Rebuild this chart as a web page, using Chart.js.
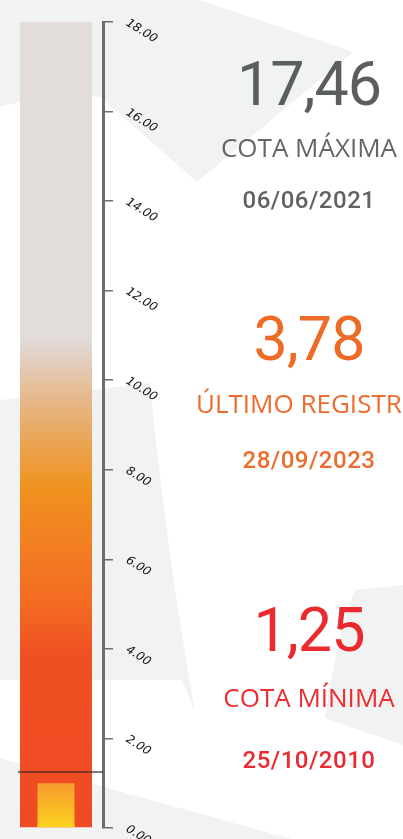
<!DOCTYPE html>
<html lang="pt-BR">
<head>
<meta charset="utf-8">
<title>Cota</title>
<script src="https://cdn.jsdelivr.net/npm/chart.js@4.4.1/dist/chart.umd.min.js"></script>
<style>
  html, body { margin: 0; padding: 0; }
  body { width: 403px; height: 839px; overflow: hidden; position: relative; background: #fff; }
  #fundo { position: absolute; left: 0; top: 0; }
  #grafico { position: absolute; left: 0; top: 0; }
  .txt { position: absolute; left: 109px; width: 400px; text-align: center; white-space: nowrap; line-height: 1; }
  .valor { font-family: Roboto, sans-serif; font-size: 61px; letter-spacing: -1px; }
  .rotulo { font-family: "Open Sans", sans-serif; font-size: 26px; }
  .data { font-family: Roboto, sans-serif; font-weight: 500; font-size: 24px; letter-spacing: 0.5px; }
</style>
</head>
<body>
<svg id="fundo" width="403" height="839">
  <g fill="#f1f2f2">
    <path d="M0,0 L200,0 L353,52 L197,182 L100,97 Q50,92 0,107 Z"/>
    <path d="M0,400 L150,383 C158,470 175,600 195,712 L182,680 L0,680 Z"/>
    <path d="M355,590 L403,585 L403,745 L325,718 C330,680 340,630 355,590 Z"/>
    <path d="M0,758 L403,870 L403,839 L0,839 Z"/>
  </g>
</svg>
<canvas id="grafico" width="200" height="839"></canvas>
<div id="cartoes"></div>
<script>
// dados do termômetro
const categorias = ['Cota'];
const escalaMax = [18];      // trilho graduado
const nivelAtual = [1.0];    // barra amarela
const cotaMinima = 1.25;
const marcasY = [0, 2, 4, 6, 8, 10, 12, 14, 16, 18];

// cartões da direita
const valoresCartao = ['17,46', '3,78', '1,25'];
const rotulosCartao = ['COTA MÁXIMA', 'ÚLTIMO REGISTRO', 'COTA MÍNIMA'];
const datasCartao = ['06/06/2021', '28/09/2023', '25/10/2010'];
const coresCartao = [['#5b5e5f', '#646667', '#5f6263'], ['#ee6a27', '#ee6b2b', '#ee6b2b'], ['#e92a2f', '#ec2e33', '#e92a2f']];
const topos = [[54, 134, 188], [309, 390, 448], [600, 684, 748]];

const cartoes = document.getElementById('cartoes');
valoresCartao.forEach((v, i) => {
  const partes = [[v, 'valor'], [rotulosCartao[i], 'rotulo'], [datasCartao[i], 'data']];
  partes.forEach(([t, cls], j) => {
    const d = document.createElement('div');
    d.className = 'txt ' + cls;
    d.textContent = t;
    d.style.top = topos[i][j] + 'px';
    d.style.color = coresCartao[i][j];
    cartoes.appendChild(d);
  });
});

function gradienteEscala(context) {
  const chart = context.chart;
  if (!chart.chartArea) return '#e2dcdb';
  const y = chart.scales.y;
  const g = chart.ctx.createLinearGradient(0, y.getPixelForValue(0), 0, y.getPixelForValue(18));
  const paradas = [[0, '#ef4b23'], [3.8, '#f04f23'], [5, '#f36a22'], [6.2, '#f27c22'], [7.6, '#f0921f'],
                   [8.8, '#e9a85e'], [9.8, '#e5bd97'], [10.6, '#e2d3ca'], [11.0, '#e2dcdb'], [18, '#e2dcdb']];
  paradas.forEach(([v, c]) => g.addColorStop(v / 18, c));
  return g;
}

function gradienteNivel(context) {
  const chart = context.chart;
  if (!chart.chartArea) return '#fbc425';
  const y = chart.scales.y;
  const g = chart.ctx.createLinearGradient(0, y.getPixelForValue(0), 0, y.getPixelForValue(nivelAtual[0]));
  g.addColorStop(0, '#fdd31f');
  g.addColorStop(1, '#f59b2d');
  return g;
}

// linha da cota mínima
const linhaMinima = {
  id: 'linhaMinima',
  afterDatasetsDraw(chart) {
    const y = chart.scales.y.getPixelForValue(cotaMinima);
    const bar = chart.getDatasetMeta(1).data[0];
    const ctx = chart.ctx;
    ctx.save();
    ctx.strokeStyle = 'rgba(70,40,35,0.85)';
    ctx.lineWidth = 1.5;
    ctx.beginPath();
    ctx.moveTo(bar.x - bar.width / 2 - 2, y);
    ctx.lineTo(chart.chartArea.right, y);
    ctx.stroke();
    ctx.restore();
  }
};

new Chart(document.getElementById('grafico'), {
  type: 'bar',
  data: {
    labels: categorias,
    datasets: [
      { label: 'Nível', data: nivelAtual, backgroundColor: gradienteNivel, grouped: false, order: 0,
        barPercentage: 37 / 94, categoryPercentage: 1 },
      { label: 'Escala', data: escalaMax, backgroundColor: gradienteEscala, grouped: false, order: 1,
        barPercentage: 72 / 94, categoryPercentage: 1 }
    ]
  },
  options: {
    responsive: false,
    animation: false,
    layout: { padding: { left: 9, top: 22, bottom: 11, right: 0 } },
    plugins: { legend: { display: false }, tooltip: { enabled: false } },
    scales: {
      x: { display: false },
      y: {
        position: 'right',
        min: 0,
        max: 18,
        afterBuildTicks: s => { s.ticks = marcasY.map(v => ({ value: v })); },
        afterFit: s => { s.width = 97; s.paddingTop = 0; s.paddingBottom = 0; },
        border: { display: true, color: '#6b6d6f', width: 3 },
        grid: { drawOnChartArea: false, drawTicks: true, tickLength: 10, color: '#6b6d6f', lineWidth: 1.5 },
        ticks: {
          minRotation: -32, maxRotation: -32, padding: 14,
          color: '#111',
          font: { family: 'DejaVu Sans', style: 'italic', size: 12 },
          callback: v => v.toFixed(2)
        }
      }
    }
  },
  plugins: [linhaMinima]
});
</script>
</body>
</html>
